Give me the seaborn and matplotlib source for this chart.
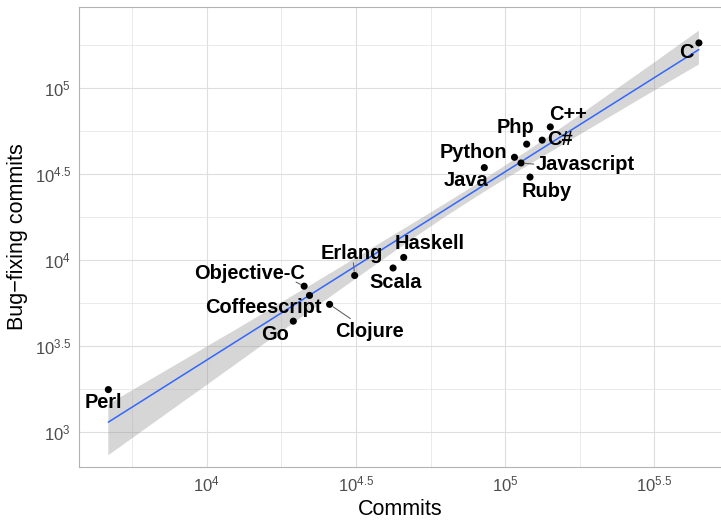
import numpy as np
import pandas as pd
import matplotlib
matplotlib.use("Agg")
import matplotlib.pyplot as plt
import seaborn as sns

# ---------------- data ----------------
languages = ["Perl", "Go", "Objective-C", "Coffeescript", "Clojure", "Erlang",
             "Haskell", "Scala", "Java", "Python", "Javascript", "Php", "Ruby",
             "C#", "C++", "C"]
commits = [4680, 19500, 21200, 22100, 25800, 31300, 45700, 42100, 85100,
           107400, 113000, 118000, 121100, 133000, 141600, 445700]
bug_fixing_commits = [1760, 4400, 7030, 6210, 5510, 8110, 10330, 8970, 34400,
                      39500, 36600, 47100, 30300, 49700, 59300, 182800]
x_tick_exponents = [4, 4.5, 5, 5.5]
y_tick_exponents = [3, 3.5, 4, 4.5, 5]

# ---------------- layout (label offsets in pixels, up positive) ----------------
label_offsets_px = {
    "Perl": (-5, -13.4), "Go": (-18.3, -13), "Objective-C": (-54.3, 13),
    "Coffeescript": (-46.4, -12), "Clojure": (39.4, -27), "Erlang": (-3.3, 22.3),
    "Haskell": (25.8, 14), "Scala": (2.7, -14.6), "Java": (-18.3, -12.7),
    "Python": (-41, 5), "Javascript": (64.3, -1.3), "Php": (-10.7, 17),
    "Ruby": (17, -14.3), "C#": (18, 0.7), "C++": (17.7, 12.4), "C": (-13, -9.3),
}
# label -> relative position on the text box where the leader segment starts
segment_starts = {"Objective-C": (0.9, 0.08), "Clojure": None,
                  "Erlang": (0.53, 0.1), "Javascript": (0.0, 0.5)}

sns.set_style("white")
plt.rcParams["font.family"] = ["Liberation Sans", "DejaVu Sans"]
plt.rcParams["mathtext.fontset"] = "custom"
plt.rcParams["mathtext.rm"] = "Liberation Sans"
plt.rcParams["mathtext.it"] = "Liberation Sans:italic"
plt.rcParams["mathtext.bf"] = "Liberation Sans:bold"

df = pd.DataFrame({
    "language": languages,
    "log_commits": np.log10(commits),
    "log_bugs": np.log10(bug_fixing_commits),
})

DPI = 100
W, H = 721, 524
fig = plt.figure(figsize=(W / DPI, H / DPI), dpi=DPI)
L, R, T, B = 79, 721, 7.3, 466.7
ax = fig.add_axes([L / W, 1 - B / H, (R - L) / W, (B - T) / H])

sns.regplot(data=df, x="log_commits", y="log_bugs", scatter=False, ci=88,
            n_boot=4000, seed=3, color="#3366FF", line_kws=dict(lw=1.1), ax=ax)
for coll in ax.collections:
    coll.set_facecolor("#999999")
    coll.set_alpha(0.4)
    coll.set_edgecolor("none")

sns.scatterplot(data=df, x="log_commits", y="log_bugs", color="black", s=26,
                edgecolor="none", ax=ax, zorder=4)

pt = 72.0 / DPI
for lang, lx, ly in zip(df["language"], df["log_commits"], df["log_bugs"]):
    dx, dy = label_offsets_px[lang]
    kw = {}
    if lang in segment_starts:
        props = dict(arrowstyle="-", color="#666666", lw=0.8, shrinkB=3)
        if segment_starts[lang] is None:
            props["shrinkA"] = 0
        else:
            props["relpos"] = segment_starts[lang]
            props["patchA"] = None
            props["shrinkA"] = 1.5
        kw["arrowprops"] = props
    ax.annotate(lang, xy=(lx, ly), xytext=(dx * pt, dy * pt),
                textcoords="offset points", ha="center", va="center",
                fontsize=14.4, fontweight="bold", color="black", zorder=5, **kw)

ax.set_xlim(3.572, 5.723)
ax.set_ylim(2.797, 5.469)

ax.set_xticks(x_tick_exponents)
ax.set_yticks(y_tick_exponents)
ax.set_xticklabels([f"$10^{{{e:g}}}$" for e in x_tick_exponents])
ax.set_yticklabels([f"$10^{{{e:g}}}$" for e in y_tick_exponents])
ax.set_xticks([e + 0.25 for e in x_tick_exponents[:-1]] + [x_tick_exponents[0] - 0.25], minor=True)
ax.set_yticks([e + 0.25 for e in y_tick_exponents], minor=True)

ax.grid(True, which="major", color="#dedede", lw=0.8)
ax.grid(True, which="minor", color="#e6e6e6", lw=0.6)
ax.set_axisbelow(True)

ax.tick_params(which="major", length=2.75, width=0.8, color="#b3b3b3",
               labelcolor="#4d4d4d", labelsize=12, pad=3)
ax.tick_params(which="minor", length=0)

for side in ["left", "top", "bottom"]:
    ax.spines[side].set_color("#b3b3b3")
    ax.spines[side].set_linewidth(0.8)
ax.spines["right"].set_visible(False)

ax.set_xlabel("Commits", fontsize=15.5, color="black", labelpad=3)
ax.set_ylabel("Bug\u2212fixing commits", fontsize=15.5, color="black", labelpad=5)

fig.savefig("out.png", dpi=DPI)
